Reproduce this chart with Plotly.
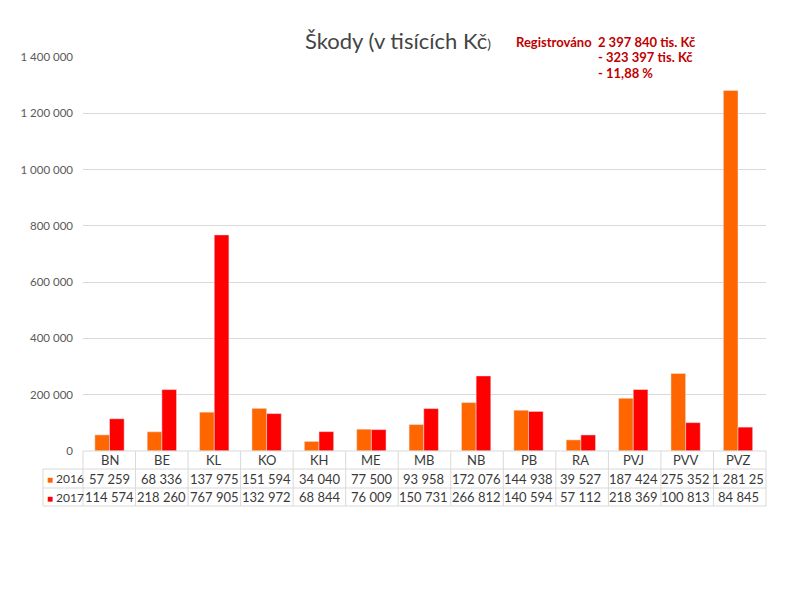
import plotly.graph_objects as go

regions = ['BN', 'BE', 'KL', 'KO', 'KH', 'ME', 'MB', 'NB', 'PB', 'RA', 'PVJ', 'PVV', 'PVZ']
years = ['2016', '2017']
values_2016 = [57259, 68336, 137975, 151594, 34040, 77500, 93958, 172076, 144938, 39527, 187424, 275352, 1281250]
values_2017 = [114574, 218260, 767905, 132972, 68844, 76009, 150731, 266812, 140594, 57112, 218369, 100813, 84845]
# the last cell in the original table is cut off
labels_2016 = ['57 259', '68 336', '137 975', '151 594', '34 040', '77 500', '93 958',
               '172 076', '144 938', '39 527', '187 424', '275 352', '1 281 25']
labels_2017 = ['114 574', '218 260', '767 905', '132 972', '68 844', '76 009', '150 731',
               '266 812', '140 594', '57 112', '218 369', '100 813', '84 845']
y_ticks = [0, 200000, 400000, 600000, 800000, 1000000, 1200000, 1400000]

orange = '#FF6600'
red = '#FF0000'
grid = '#D9D9D9'
text_col = '#3A3A3A'
font = 'Lato, Open Sans, sans-serif'

# page body adds 8px, so margins are shifted back by that much
off = 8
L, T, R, B = 83 - off, 57 - off, 34 + off, 149 + off
pw, ph = 800 - L - R, 600 - T - B   # 683 x 394


def px(x):
    return (x - 83) / pw


def py(y):
    return (451 - y) / ph


fig = go.Figure()
fig.add_trace(go.Bar(x=regions, y=values_2016, name=years[0], marker_color=orange))
fig.add_trace(go.Bar(x=regions, y=values_2017, name=years[1], marker_color=red))

# table under the chart
row_top = [py(451), py(469), py(488), py(506)]
left_col = px(43)
n = len(regions)

shapes = []
line = dict(color=grid, width=1)
shapes.append(dict(type='line', xref='paper', yref='paper', x0=0, x1=1, y0=row_top[0], y1=row_top[0], line=line))
for yy in row_top[1:]:
    shapes.append(dict(type='line', xref='paper', yref='paper', x0=left_col, x1=1, y0=yy, y1=yy, line=line))
for i in range(n + 1):
    shapes.append(dict(type='line', xref='paper', yref='paper', x0=i / n, x1=i / n,
                       y0=row_top[0], y1=row_top[3], line=line))
shapes.append(dict(type='line', xref='paper', yref='paper', x0=left_col, x1=left_col,
                   y0=row_top[1], y1=row_top[3], line=line))

annotations = []
mids = [(row_top[k] + row_top[k + 1]) / 2 for k in range(3)]
for i, r in enumerate(regions):
    for txt, yy in zip([r, labels_2016[i], labels_2017[i]], mids):
        annotations.append(dict(x=r, y=yy, xref='x', yref='paper', yanchor='middle', text=txt,
                                showarrow=False, font=dict(size=13, color=text_col, family=font)))
for yr, col, yy in zip(years, [orange, red], mids[1:]):
    annotations.append(dict(x=px(45), y=yy, xref='paper', yref='paper', xanchor='left', yanchor='middle',
                            showarrow=False,
                            text="<span style='color:%s;font-size:10px'>■</span> %s" % (col, yr),
                            font=dict(size=12, color=text_col, family=font)))

# title and the red note
annotations.append(dict(x=px(398), y=py(40), xref='paper', yref='paper', xanchor='center', yanchor='middle',
                        showarrow=False, text="Škody (v tisících Kč<span style='font-size:14px'>)</span>",
                        font=dict(size=22, color='#444444', family=font)))
note = dict(size=13, color='#C00000', family=font)
for txt, x0, y0 in [('<b>Registrováno  2 397 840 tis. Kč</b>', 514, 42),
                    ('<b>- 323 397 tis. Kč</b>', 596, 57),
                    ('<b>- 11,88 %</b>', 596, 73)]:
    annotations.append(dict(x=px(x0), y=py(y0), xref='paper', yref='paper', xanchor='left', yanchor='middle',
                            showarrow=False, text=txt, font=note))

fig.update_layout(
    width=800, height=600,
    margin=dict(l=L, r=R, t=T, b=B),
    paper_bgcolor='white', plot_bgcolor='white',
    barmode='group', bargap=0.44, bargroupgap=0,
    showlegend=False,
    separators=', ',
    font=dict(family=font, color='#595959'),
    shapes=shapes, annotations=annotations,
)
fig.update_xaxes(showticklabels=False, showgrid=False, showline=False, zeroline=False)
fig.update_yaxes(range=[0, 1400000], tickvals=y_ticks, tickformat=',d', showgrid=True, gridcolor=grid,
                 zeroline=False, showline=False, ticklabelstandoff=9,
                 tickfont=dict(size=11.5, color='#595959', family=font))

fig.write_html('out.html')
